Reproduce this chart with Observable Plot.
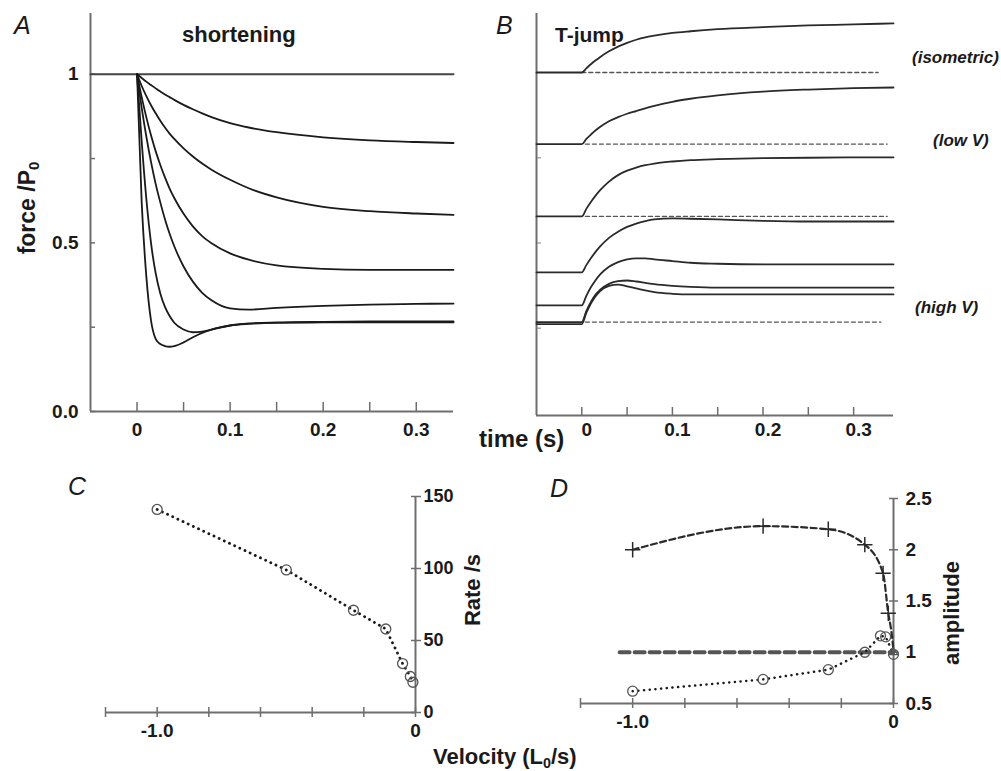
<!DOCTYPE html>
<html>
<head>
<meta charset="utf-8">
<script src="https://cdn.jsdelivr.net/npm/d3@7"></script>
<script src="https://cdn.jsdelivr.net/npm/@observablehq/plot@0.6"></script>
<style>
  body { margin: 0; background: #fff; }
  #root { position: relative; width: 1001px; height: 771px; background: #fff; overflow: hidden;
          font-family: "Liberation Sans", Arial, sans-serif; color: #1a1a1a; }
  .lbl { position: absolute; white-space: nowrap; line-height: 1; }
  .b { font-weight: bold; }
  .it { font-style: italic; }
  .rot { transform: translate(-50%, -50%) rotate(-90deg); }
  sub { font-size: 0.65em; vertical-align: -0.25em; }
</style>
</head>
<body>
<div id="root"></div>
<script>
// ---------------- Panel A: shortening ----------------
const tA = [0, 0.005, 0.01, 0.015, 0.02, 0.025, 0.03, 0.035, 0.04, 0.05, 0.06, 0.07, 0.08, 0.1, 0.12, 0.15, 0.2, 0.25, 0.3, 0.34];
const fA1 = [1, 0.989, 0.978, 0.968, 0.958, 0.949, 0.94, 0.932, 0.924, 0.909, 0.896, 0.884, 0.873, 0.855, 0.842, 0.828, 0.813, 0.804, 0.799, 0.796];
const fA2 = [1, 0.965, 0.935, 0.908, 0.884, 0.862, 0.842, 0.824, 0.808, 0.78, 0.756, 0.735, 0.717, 0.687, 0.662, 0.635, 0.607, 0.594, 0.587, 0.583];
const fA3 = [1, 0.932, 0.872, 0.819, 0.772, 0.731, 0.694, 0.661, 0.633, 0.586, 0.549, 0.52, 0.499, 0.469, 0.45, 0.433, 0.423, 0.42, 0.42, 0.42];
const fA4 = [1, 0.9, 0.815, 0.74, 0.675, 0.62, 0.57, 0.527, 0.49, 0.43, 0.385, 0.352, 0.33, 0.306, 0.302, 0.307, 0.313, 0.317, 0.319, 0.32];
const fA5 = [1, 0.8, 0.63, 0.5, 0.41, 0.35, 0.31, 0.283, 0.263, 0.243, 0.235, 0.237, 0.243, 0.255, 0.261, 0.264, 0.266, 0.267, 0.267, 0.267];
const fA6 = [1, 0.62, 0.4, 0.27, 0.215, 0.2, 0.194, 0.192, 0.194, 0.205, 0.22, 0.233, 0.243, 0.255, 0.26, 0.263, 0.264, 0.264, 0.264, 0.264];
const isoATime = [-0.05, 0.34];
const isoAForce = [1, 1];
const aXTicks = [0, 0.05, 0.1, 0.15, 0.2, 0.25, 0.3];
const aXLabelVals = [0, 0.1, 0.2, 0.3];
const aXLabels = ["0", "0.1", "0.2", "0.3"];
const aYTicks = [0, 0.25, 0.5, 0.75, 1];
const aYLabelVals = [0, 0.5, 1];
const aYLabels = ["0.0", "0.5", "1"];

// ---------------- Panel B: T-jump ----------------
const tB = [-0.05, 0, 0.005, 0.01, 0.015, 0.02, 0.03, 0.04, 0.05, 0.06, 0.07, 0.08, 0.1, 0.12, 0.15, 0.2, 0.25, 0.3, 0.344];
const fB1 = [1, 1, 1.012, 1.024, 1.035, 1.045, 1.062, 1.076, 1.087, 1.096, 1.103, 1.108, 1.116, 1.121, 1.127, 1.133, 1.138, 1.141, 1.144];
const fB2 = [0.79, 0.79, 0.805, 0.818, 0.83, 0.84, 0.857, 0.869, 0.879, 0.887, 0.895, 0.902, 0.914, 0.923, 0.933, 0.944, 0.95, 0.954, 0.956];
const fB3 = [0.578, 0.578, 0.6, 0.62, 0.638, 0.654, 0.68, 0.699, 0.712, 0.721, 0.728, 0.733, 0.739, 0.743, 0.746, 0.749, 0.75, 0.751, 0.751];
const fB4 = [0.414, 0.414, 0.435, 0.455, 0.473, 0.489, 0.515, 0.533, 0.547, 0.557, 0.564, 0.569, 0.572, 0.571, 0.569, 0.565, 0.563, 0.563, 0.563];
const fB5 = [0.317, 0.317, 0.345, 0.37, 0.39, 0.407, 0.43, 0.444, 0.452, 0.455, 0.455, 0.452, 0.447, 0.442, 0.439, 0.437, 0.437, 0.437, 0.437];
const fB6 = [0.268, 0.268, 0.3, 0.327, 0.348, 0.362, 0.38, 0.388, 0.39, 0.387, 0.383, 0.379, 0.374, 0.371, 0.369, 0.369, 0.369, 0.369, 0.369];
const fB7 = [0.262, 0.262, 0.295, 0.322, 0.343, 0.358, 0.374, 0.378, 0.373, 0.367, 0.361, 0.356, 0.351, 0.349, 0.349, 0.349, 0.349, 0.349, 0.349];
const bDashLevel = [1.0, 0.79, 0.578, 0.268];
const bDashStart = [0.0, 0.004, 0.004, 0.004];
const bDashEnd = [0.327, 0.337, 0.337, 0.33];
const bXTicks = [0, 0.05, 0.1, 0.15, 0.2, 0.25, 0.3];
const bXLabelVals = [0, 0.1, 0.2, 0.3];
const bXLabels = ["0", "0.1", "0.2", "0.3"];
const bYTicks = [0.25, 0.5, 0.75];

// ---------------- Panel C: rate vs velocity ----------------
const cVelocity = [-1.0, -0.5, -0.24, -0.115, -0.05, -0.02, -0.01];
const cRate = [141, 99, 71, 58, 34, 25, 21];
const cXTicks = [-1.2, -1.0, -0.8, -0.6, -0.4, -0.2, 0];
const cXLabelVals = [-1.0, 0];
const cXLabels = ["-1.0", "0"];
const cYTicks = [0, 50, 100, 150];
const cYLabels = ["0", "50", "100", "150"];

// ---------------- Panel D: amplitude vs velocity ----------------
const dVelPlus = [-1.0, -0.5, -0.25, -0.11, -0.04, -0.02];
const dAmpPlus = [2.0, 2.23, 2.2, 2.05, 1.77, 1.38];
const dVelPlusLine = [-1.0, -0.5, -0.25, -0.11, -0.04, -0.02, -0.008, 0];
const dAmpPlusLine = [2.0, 2.23, 2.2, 2.05, 1.77, 1.38, 1.2, 1.02];
const dVelCirc = [-1.0, -0.5, -0.25, -0.11, -0.05, -0.03, 0];
const dAmpCirc = [0.62, 0.735, 0.83, 1.0, 1.16, 1.15, 0.98];
const dRefVel = [-1.05, 0];
const dRefAmp = [1, 1];
const dXTicks = [-1.2, -1.0, -0.8, -0.6, -0.4, -0.2, 0];
const dXLabelVals = [-1.0, 0];
const dXLabels = ["-1.0", "0"];
const dYTicks = [0.5, 1, 1.5, 2, 2.5];
const dYLabels = ["0.5", "1", "1.5", "2", "2.5"];

// ---------------- build ----------------
const FONT = '"Liberation Sans", Arial, sans-serif';
const AX = "#6e6e6e";
const INK = "#1a1a1a";
const TICKFONT = {fontSize: 19, fontWeight: "bold", fill: INK};
const root = document.getElementById("root");

function rows(times, series) {
  return series.flatMap((vals, k) => times.map((t, i) => ({t, f: vals[i], s: k})));
}
function pairRows(xs, ys) { return xs.map((x, i) => ({x, y: ys[i]})); }
function lab(vals, labels) { return d => labels[vals.indexOf(d)] ?? ""; }
function place(svg, left, top) {
  svg.style.position = "absolute";
  svg.style.left = left + "px";
  svg.style.top = top + "px";
  root.appendChild(svg);
}
const baseStyle = {fontFamily: FONT, fontSize: "19px", fontWeight: "bold", color: INK, background: "transparent", overflow: "visible"};
const DOTTED = {stroke: INK, strokeWidth: 2.8, strokeLinecap: "round", strokeDasharray: "0.1,5.6"};

// Panel A
const aRows = rows(tA, [fA1, fA2, fA3, fA4, fA5, fA6]);
const plotA = Plot.plot({
  width: 500, height: 450, marginLeft: 90, marginRight: 47, marginTop: 13, marginBottom: 39,
  x: {domain: [-0.05, 0.34]}, y: {domain: [0, 1.18]},
  style: baseStyle,
  marks: [
    Plot.axisX(aXTicks, {tickSize: -9, tickFormat: () => "", label: null, stroke: AX, strokeWidth: 1.5}),
    Plot.axisX(aXLabelVals, {tickSize: 0, tickPadding: 11, tickFormat: lab(aXLabelVals, aXLabels), label: null, ...TICKFONT}),
    Plot.axisY(aYTicks, {tickSize: -5, tickFormat: () => "", label: null, stroke: AX, strokeWidth: 1.5}),
    Plot.axisY(aYLabelVals, {tickSize: 0, tickPadding: 12, tickFormat: lab(aYLabelVals, aYLabels), label: null, ...TICKFONT}),
    Plot.ruleX([-0.05], {stroke: AX, strokeWidth: 2}),
    Plot.ruleY([0], {stroke: AX, strokeWidth: 2}),
    Plot.line(pairRows(isoATime, isoAForce), {x: "x", y: "y", stroke: "#444", strokeWidth: 2}),
    Plot.line(aRows, {x: "t", y: "f", z: "s", curve: "monotone-x", stroke: INK, strokeWidth: 1.8})
  ]
});
place(plotA, 0, 0);

// Panel B
const bRows = rows(tB, [fB1, fB2, fB3, fB4, fB5, fB6, fB7]);
const bDashRows = bDashLevel.flatMap((lv, k) => [{t: bDashStart[k], f: lv, s: k}, {t: bDashEnd[k], f: lv, s: k}]);
const plotB = Plot.plot({
  width: 501, height: 450, marginLeft: 36, marginRight: 108, marginTop: 13, marginBottom: 35,
  x: {domain: [-0.05, 0.344]}, y: {domain: [-0.006, 1.173]},
  style: baseStyle,
  marks: [
    Plot.axisX(bXTicks, {tickSize: -8, tickFormat: () => "", label: null, stroke: AX, strokeWidth: 1.5}),
    Plot.axisX(bXLabelVals, {tickSize: 0, tickPadding: 7, dx: 5, tickFormat: lab(bXLabelVals, bXLabels), label: null, ...TICKFONT}),
    Plot.axisY(bYTicks, {tickSize: -5, tickFormat: () => "", label: null, stroke: "#aaa", strokeWidth: 1.5}),
    Plot.ruleX([-0.05], {stroke: AX, strokeWidth: 2}),
    Plot.ruleY([-0.006], {stroke: AX, strokeWidth: 2}),
    Plot.line(bDashRows, {x: "t", y: "f", z: "s", stroke: "#555", strokeWidth: 1.4, strokeDasharray: "4,3"}),
    Plot.line(bRows, {x: "t", y: "f", z: "s", curve: "monotone-x", stroke: "#2a2a2a", strokeWidth: 1.8})
  ]
});
place(plotB, 500, 0);

// Panel C
const plotC = Plot.plot({
  width: 500, height: 321, marginLeft: 105, marginRight: 85, marginTop: 46, marginBottom: 59,
  x: {domain: [-1.2, 0]}, y: {domain: [0, 150]},
  style: baseStyle,
  marks: [
    Plot.ruleY([0], {stroke: AX, strokeWidth: 2}),
    Plot.ruleX([0], {stroke: AX, strokeWidth: 2}),
    Plot.axisX(cXTicks, {tickSize: 5, tickFormat: () => "", label: null, stroke: AX, strokeWidth: 1.5}),
    Plot.axisX(cXTicks, {tickSize: -5, tickFormat: () => "", label: null, stroke: AX, strokeWidth: 1.5}),
    Plot.axisX(cXLabelVals, {tickSize: 0, tickPadding: 11, tickFormat: lab(cXLabelVals, cXLabels), label: null, ...TICKFONT}),
    Plot.axisY(cYTicks, {anchor: "right", tickSize: 5, tickFormat: () => "", label: null, stroke: AX, strokeWidth: 1.5}),
    Plot.axisY(cYTicks, {anchor: "right", tickSize: -5, tickFormat: () => "", label: null, stroke: AX, strokeWidth: 1.5}),
    Plot.axisY(cYTicks, {anchor: "right", tickSize: 0, tickPadding: 8, tickFormat: lab(cYTicks, cYLabels), label: null, ...TICKFONT, fontSize: 18}),
    Plot.line(pairRows(cVelocity, cRate), {x: "x", y: "y", ...DOTTED}),
    Plot.dot(pairRows(cVelocity, cRate), {x: "x", y: "y", r: 5, stroke: "#555", strokeWidth: 1.3, fill: "none"})
  ]
});
place(plotC, 0, 450);

// Panel D
const plotD = Plot.plot({
  width: 501, height: 321, marginLeft: 80, marginRight: 108, marginTop: 48, marginBottom: 68,
  x: {domain: [-1.2, 0]}, y: {domain: [0.5, 2.5]},
  style: baseStyle,
  marks: [
    Plot.ruleY([0.5], {stroke: AX, strokeWidth: 2}),
    Plot.ruleX([0], {stroke: AX, strokeWidth: 2}),
    Plot.axisX(dXTicks, {tickSize: 5, tickFormat: () => "", label: null, stroke: AX, strokeWidth: 1.5}),
    Plot.axisX(dXTicks, {tickSize: -5, tickFormat: () => "", label: null, stroke: AX, strokeWidth: 1.5}),
    Plot.axisX(dXLabelVals, {tickSize: 0, tickPadding: 11, tickFormat: lab(dXLabelVals, dXLabels), label: null, ...TICKFONT}),
    Plot.axisY(dYTicks, {anchor: "right", tickSize: 4, tickFormat: () => "", label: null, stroke: AX, strokeWidth: 1.5}),
    Plot.axisY(dYTicks, {anchor: "right", tickSize: -5, tickFormat: () => "", label: null, stroke: AX, strokeWidth: 1.5}),
    Plot.axisY(dYTicks, {anchor: "right", tickSize: 0, tickPadding: 12, tickFormat: lab(dYTicks, dYLabels), label: null, ...TICKFONT}),
    Plot.line(pairRows(dRefVel, dRefAmp), {x: "x", y: "y", stroke: "#555", strokeWidth: 4, strokeDasharray: "10,5"}),
    Plot.line(pairRows(dVelPlusLine, dAmpPlusLine), {x: "x", y: "y", curve: "monotone-x", stroke: "#2a2a2a", strokeWidth: 2.2, strokeDasharray: "6,3.5"}),
    Plot.dot(pairRows(dVelPlus, dAmpPlus), {x: "x", y: "y", symbol: "plus", r: 5, stroke: "#2a2a2a", strokeWidth: 1.5}),
    Plot.line(pairRows(dVelCirc, dAmpCirc), {x: "x", y: "y", ...DOTTED, strokeWidth: 2.5}),
    Plot.dot(pairRows(dVelCirc, dAmpCirc), {x: "x", y: "y", r: 5, stroke: "#555", strokeWidth: 1.3, fill: "none"}),
    Plot.dot(pairRows([0], [1]), {x: "x", y: "y", symbol: "triangle", r: 3, stroke: "#555", strokeWidth: 1.2, fill: "none"})
  ]
});
place(plotD, 500, 450);

// ---------------- text labels ----------------
const labels = [
  {html: "A", cls: "it", size: 25, left: 14, top: 13},
  {html: "B", cls: "it", size: 25, left: 496, top: 13},
  {html: "shortening", cls: "b", size: 22, left: 182, top: 24},
  {html: "T-jump", cls: "b", size: 21, left: 555, top: 24},
  {html: "(isometric)", cls: "b it", size: 17, left: 912, top: 49},
  {html: "(low V)", cls: "b it", size: 17, left: 933, top: 132},
  {html: "(high V)", cls: "b it", size: 17, left: 915, top: 299},
  {html: "time (s)", cls: "b", size: 24, left: 479, top: 427},
  {html: "C", cls: "it", size: 25, left: 68, top: 474},
  {html: "D", cls: "it", size: 25, left: 550, top: 476},
  {html: "Velocity (L<sub>0</sub>/s)", cls: "b", size: 22, left: 433, top: 746}
];
for (const l of labels) {
  const d = document.createElement("div");
  d.className = "lbl " + l.cls;
  d.style.fontSize = l.size + "px";
  d.style.left = l.left + "px";
  d.style.top = l.top + "px";
  d.innerHTML = l.html;
  root.appendChild(d);
}
const rotLabels = [
  {html: "force /P<sub>0</sub>", size: 23, cx: 29, cy: 208},
  {html: "Rate /s", size: 22, cx: 473, cy: 590},
  {html: "amplitude", size: 22, cx: 952, cy: 613}
];
for (const l of rotLabels) {
  const d = document.createElement("div");
  d.className = "lbl b rot";
  d.style.fontSize = l.size + "px";
  d.style.left = l.cx + "px";
  d.style.top = l.cy + "px";
  d.innerHTML = l.html;
  root.appendChild(d);
}
</script>
</body>
</html>
